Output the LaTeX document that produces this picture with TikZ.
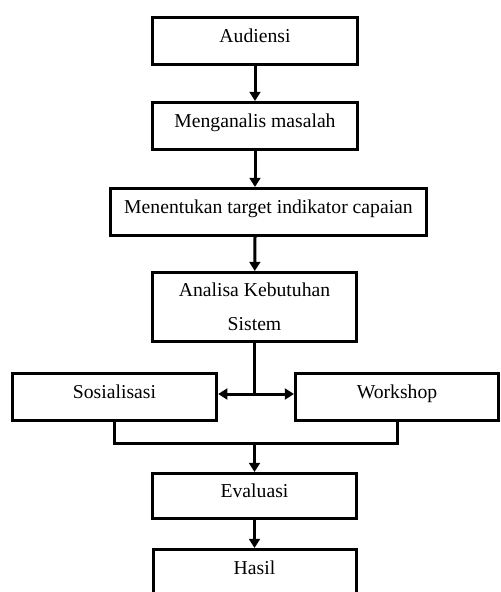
\documentclass[tikz,border=0pt]{standalone}
\usepackage{fontspec}
\setmainfont{Liberation Serif}
\usepackage{tikz}
\usetikzlibrary{arrows.meta, calc, positioning}
\tikzset{
  kotak/.style={draw, rectangle, line width=1.8pt, minimum width=122.6pt,
    minimum height=28.2pt, font=\fontsize{11.8}{14}\selectfont,
    text height=8pt, text depth=6pt},
  panah/.style={line width=1.8pt, -{Triangle[width=6.5pt,length=5.5pt]}},
  garis/.style={line width=1.8pt}
}

\begin{document}
\begin{tikzpicture}
      \useasboundingbox (0,0) rectangle (300pt,-355.2pt);
      \node[kotak] (P1) at (153pt,-24.6pt) {Audiensi};
      \node[kotak, below=21pt of P1]
        (P2) {Menganalis masalah};
      \node[kotak, minimum width=189.6pt, xshift=8.1pt, below=21.6pt of P2]
        (P3) {Menentukan target indikator capaian};
      \node[kotak, minimum height=41.4pt, text height=, text depth=, align=center,
        font=\fontsize{11.8}{20.4}\selectfont, xshift=-8.4pt, below=20.4pt of P3]
        (P4) {Analisa Kebutuhan\\Sistem};
      \node[kotak, xshift=-84pt, below=17.4pt of P4]
        (P5) {Sosialisasi};
      \node[kotak, minimum width=121.8pt, xshift=85.5pt, below=17.4pt of P4]
        (P6) {Workshop};
      \node[kotak, minimum height=27pt, below=77.4pt of P4]
        (P7) {Evaluasi};
      \node[kotak, minimum width=121.8pt, below=16.8pt of P7]
        (P8) {Hasil};
      \coordinate[below=30.6pt of P4.south] (bagi);
      \coordinate[below=12.6pt of P5.south] (gabung);
      \draw[panah] (P1) -- (P2);
      \draw[panah] (P2) -- (P2 |- P3.north);
      \draw[panah] (P2 |- P3.south) -- (P4);
      \draw[garis] (P4.south) -- (bagi);
      \draw[panah] (bagi) -- (bagi -| P5.east);
      \draw[panah] (bagi) -- (bagi -| P6.west);
      \draw[garis] (P5.south) -- (gabung) -- (gabung -| P6.south) -- (P6.south);
      \draw[panah] (gabung -| P7.north) -- (P7.north);
      \draw[panah] (P7) -- (P8);
    \end{tikzpicture}
\end{document}
